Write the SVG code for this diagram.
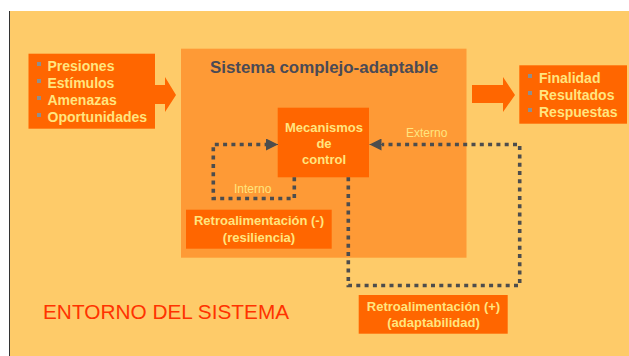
<svg xmlns="http://www.w3.org/2000/svg" width="629" height="356" viewBox="0 0 629 356">
<defs>
<style>
.box{fill:#FF6600}
.wt{font-family:"Liberation Sans",Arial,sans-serif;font-weight:bold;fill:#FFE57F}
.lbl{font-family:"Liberation Sans",Arial,sans-serif;fill:#FFE57F;font-size:12px}
.bul{fill:#8E8E8E}
.dot{fill:none;stroke:#4D4D4D;stroke-width:3.6;stroke-dasharray:4 4.3}
</style>
<marker id="ah" viewBox="0 0 12 12" refX="12" refY="6" markerWidth="12" markerHeight="12" markerUnits="userSpaceOnUse" orient="auto">
<path d="M0,0 L12,6 L0,12 z" fill="#4D4D4D"/>
</marker>
</defs>
<rect x="0" y="0" width="629" height="356" fill="#FFFFFF"/>
<rect x="9.5" y="11" width="620" height="345" fill="#FECB69"/>
<line x1="9.5" y1="11" x2="9.5" y2="356" stroke="#333" stroke-width="1"/>

<g id="sistema">
<rect x="181" y="48.7" width="285.5" height="209" fill="#FE9A36"/>
<text x="210" y="73" font-family="Liberation Sans, Arial, sans-serif" font-weight="bold" font-size="16.9" fill="#4A4A55">Sistema complejo-adaptable</text>
</g>

<g id="entradas">
<rect class="box" x="28.5" y="53.7" width="126.5" height="75"/>
<rect class="bul" x="37" y="62" width="4" height="4"/>
<rect class="bul" x="37" y="79" width="4" height="4"/>
<rect class="bul" x="37" y="96" width="4" height="4"/>
<rect class="bul" x="37" y="113" width="4" height="4"/>
<text class="wt" font-size="14" x="47.5" y="71">Presiones</text>
<text class="wt" font-size="14" x="47.5" y="88">Estímulos</text>
<text class="wt" font-size="14" x="47.5" y="105">Amenazas</text>
<text class="wt" font-size="14" x="47.5" y="122">Oportunidades</text>
</g>

<g id="flecha-entrada">
<path d="M155,85 H165 V77 L176,95 L165,112 V104 H155 z" fill="#FF6600"/>
</g>

<g id="flecha-salida">
<path d="M472,85 H503 V77 L515,95 L503,112 V103 H472 z" fill="#FF6600"/>
</g>

<g id="salidas">
<rect class="box" x="519.3" y="65.3" width="107.7" height="58.4"/>
<rect class="bul" x="528" y="74" width="4" height="4"/>
<rect class="bul" x="528" y="91" width="4" height="4"/>
<rect class="bul" x="528" y="108" width="4" height="4"/>
<text class="wt" font-size="14" x="539" y="83">Finalidad</text>
<text class="wt" font-size="14" x="539" y="100">Resultados</text>
<text class="wt" font-size="14" x="539" y="117">Respuestas</text>
</g>

<g id="mecanismos">
<rect class="box" x="277.7" y="107.7" width="91.3" height="69.6"/>
<text class="wt" font-size="13" text-anchor="middle" x="324" y="131.5">Mecanismos</text>
<text class="wt" font-size="13" text-anchor="middle" x="324" y="148">de</text>
<text class="wt" font-size="13" text-anchor="middle" x="324" y="163.5">control</text>
</g>

<g id="retro-negativa">
<rect class="box" x="186" y="209.7" width="145.7" height="39"/>
<text class="wt" font-size="13" text-anchor="middle" x="259" y="225">Retroalimentación (-)</text>
<text class="wt" font-size="13" text-anchor="middle" x="259" y="241.5">(resiliencia)</text>
</g>

<g id="retro-positiva">
<rect class="box" x="358.7" y="295" width="149" height="38.7"/>
<text class="wt" font-size="13" text-anchor="middle" x="433.5" y="310.5">Retroalimentación (+)</text>
<text class="wt" font-size="13" text-anchor="middle" x="433.5" y="327">(adaptabilidad)</text>
</g>

<g id="entorno">
<text x="43" y="319" font-family="Liberation Sans, Arial, sans-serif" font-size="20.8" fill="#FF3300">ENTORNO DEL SISTEMA</text>
</g>

<g id="conectores">
<path class="dot" d="M294.3,177.3 V198.5 H213.3 V144.5 H266" />
<path d="M266,144.5 H278" stroke="#4D4D4D" stroke-width="1" marker-end="url(#ah)"/>
<text class="lbl" x="234" y="193">Interno</text>
<path class="dot" d="M348.3,177.3 V285.5 H519.7 V144.5 H382" />
<path d="M382,144.5 H369.5" stroke="#4D4D4D" stroke-width="1" marker-end="url(#ah)"/>
<text class="lbl" x="406" y="137">Externo</text>
</g>
</svg>
